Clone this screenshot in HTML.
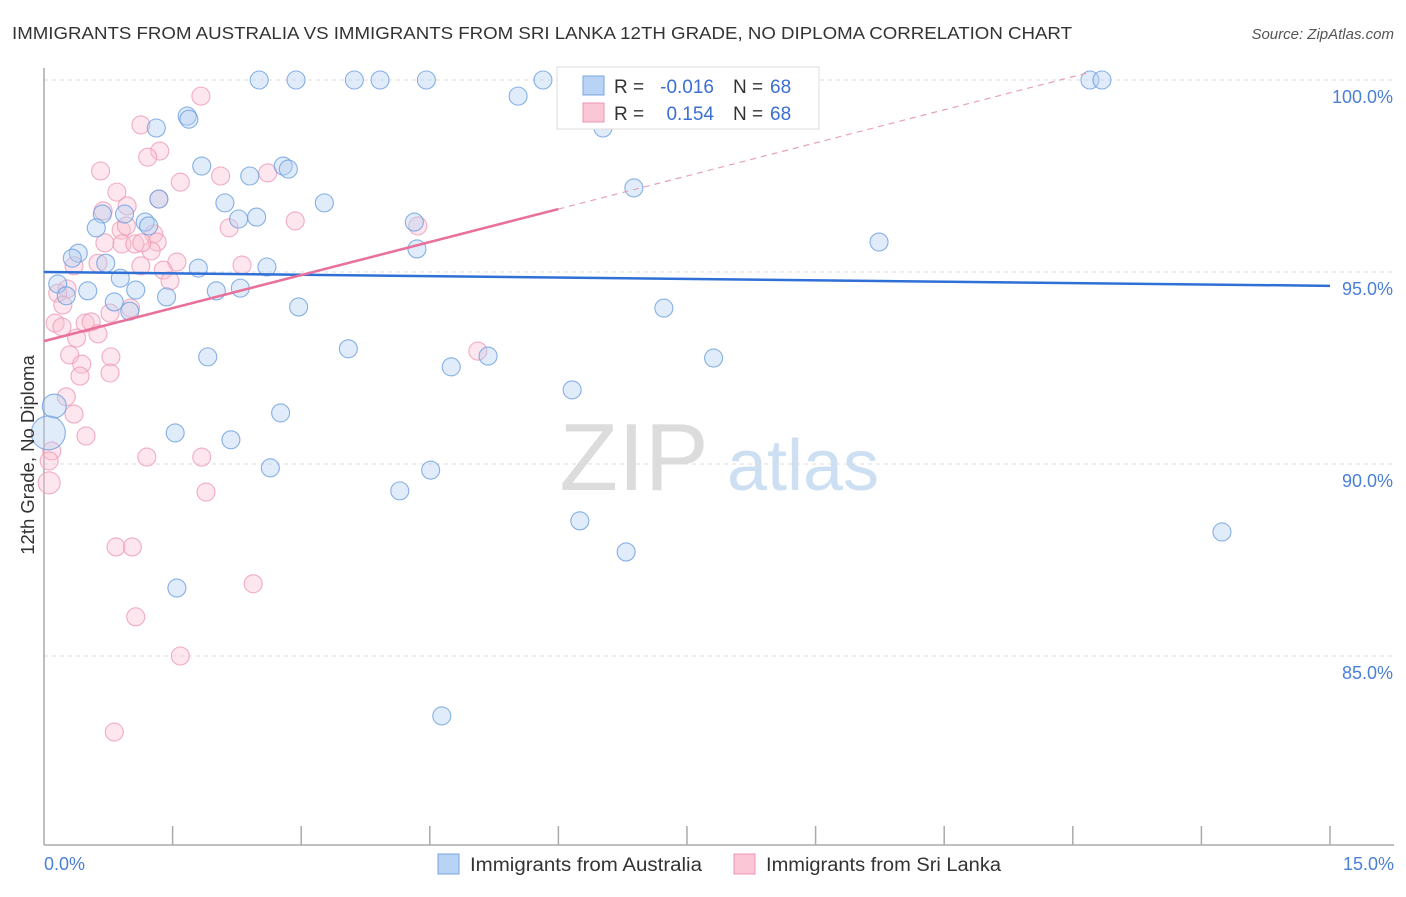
<!DOCTYPE html>
<html><head><meta charset="utf-8"><style>
body{margin:0;background:#fff;font-family:"Liberation Sans",sans-serif;}
svg text{font-family:"Liberation Sans",sans-serif;}
</style></head><body>
<svg id="chart" width="1406" height="892" viewBox="0 0 1406 892">
<text x="12" y="39" font-size="17.5" fill="#333" textLength="1060" lengthAdjust="spacingAndGlyphs">IMMIGRANTS FROM AUSTRALIA VS IMMIGRANTS FROM SRI LANKA 12TH GRADE, NO DIPLOMA CORRELATION CHART</text>
<text x="1394" y="39" font-size="15" font-style="italic" fill="#555" text-anchor="end">Source: ZipAtlas.com</text>
<g>
<text x="634" y="490" font-size="96" font-family="Liberation Serif" fill="#dcdcdc" text-anchor="middle">ZIP</text>
<text x="803" y="490" font-size="72" fill="#cddff2" text-anchor="middle">atlas</text>
</g>
<g id="grid"></g>
<g id="axes"></g>
<g id="pts"></g>
<g id="trends"></g>
<g>
<rect x="557" y="67" width="262" height="62" fill="#fff" stroke="#ddd"/>
<rect x="583" y="76" width="21" height="19" fill="#b9d3f5" stroke="#7aa5e0"/>
<text x="614" y="93" font-size="19" fill="#333">R =</text>
<text x="714" y="93" font-size="19" fill="#3b6fd1" text-anchor="end">-0.016</text>
<text x="733" y="93" font-size="19" fill="#333">N =</text>
<text x="770" y="93" font-size="19" fill="#3b6fd1">68</text>
<rect x="583" y="103" width="21" height="19" fill="#fbc6d6" stroke="#ec95b0"/>
<text x="614" y="120" font-size="19" fill="#333">R =</text>
<text x="714" y="120" font-size="19" fill="#3b6fd1" text-anchor="end">0.154</text>
<text x="733" y="120" font-size="19" fill="#333">N =</text>
<text x="770" y="120" font-size="19" fill="#3b6fd1">68</text>
</g>
<g>
<rect x="438" y="854" width="21" height="20" fill="#b9d3f5" stroke="#7aa5e0"/>
<text x="470" y="871" font-size="19" fill="#333" textLength="232" lengthAdjust="spacingAndGlyphs">Immigrants from Australia</text>
<rect x="734" y="854" width="21" height="20" fill="#fbc6d6" stroke="#ec95b0"/>
<text x="766" y="871" font-size="19" fill="#333" textLength="235" lengthAdjust="spacingAndGlyphs">Immigrants from Sri Lanka</text>
</g>
<text transform="translate(34,455) rotate(-90)" font-size="18.5" fill="#333" text-anchor="middle">12th Grade, No Diploma</text>
</svg>
<script>
const yTicks=[100,95,90,85];
const yTickLabels=["100.0%","95.0%","90.0%","85.0%"];
const xLabels=["0.0%","15.0%"];
const blueX=[2.51,2.94,3.62,3.92,4.46,5.82,12.20,12.34,5.53,1.67,1.69,1.31,6.52,1.84,2.79,2.85,2.40,6.88,1.34,2.11,3.27,0.68,0.94,1.18,1.22,2.27,2.48,4.32,0.61,9.74,4.35,0.40,0.33,0.72,1.80,2.60,0.89,0.16,0.51,1.07,2.01,2.29,0.26,0.82,1.43,2.97,7.23,1.00,3.55,1.91,5.18,7.81,4.75,6.16,0.12,2.76,1.53,2.18,0.05,2.64,4.51,4.15,6.25,13.74,6.79,1.55,4.64];
const blueY=[100,100,100,100,100,100,100,100,99.58,99.06,98.98,98.75,98.75,97.76,97.76,97.68,97.50,97.19,96.90,96.80,96.80,96.51,96.51,96.30,96.20,96.38,96.43,96.30,96.15,95.78,95.60,95.49,95.36,95.23,95.10,95.13,94.84,94.69,94.51,94.53,94.51,94.58,94.38,94.22,94.35,94.09,94.06,93.98,93.00,92.79,92.81,92.76,92.53,91.93,91.51,91.33,90.81,90.63,90.81,89.90,89.84,89.30,88.52,88.23,87.71,86.77,83.44];
const blueR=[9,9,9,9,9,9,9,9,9,9,9,9,9,9,9,9,9,9,9,9,9,9,9,9,9,9,9,9,9,9,9,9,9,9,9,9,9,9,9,9,9,9,9,9,9,9,9,9,9,9,9,9,9,9,12,9,9,9,17,9,9,9,9,9,9,9,9];
const pinkX=[1.83,1.13,1.35,1.21,0.66,2.06,2.61,1.59,0.85,0.97,1.34,0.69,2.93,4.36,2.16,0.90,1.28,0.96,0.71,0.91,1.06,1.32,1.25,1.14,1.55,0.35,0.63,1.13,1.39,2.31,1.47,0.27,0.16,0.22,0.77,1.01,0.13,0.21,0.48,0.55,0.38,0.63,0.30,0.78,0.44,0.42,0.77,5.06,0.26,0.35,0.49,0.09,0.06,0.06,1.20,1.84,1.89,0.84,1.03,2.44,1.07,1.59,0.82];
const pinkY=[99.58,98.83,98.15,97.99,97.63,97.50,97.58,97.34,97.08,96.72,96.90,96.59,96.33,96.20,96.15,96.09,95.99,96.20,95.76,95.73,95.73,95.78,95.55,95.76,95.26,95.16,95.23,95.16,95.05,95.18,94.77,94.56,94.45,94.14,93.93,94.06,93.67,93.57,93.67,93.70,93.28,93.39,92.84,92.79,92.60,92.29,92.37,92.94,91.75,91.30,90.73,90.34,90.08,89.51,90.18,90.18,89.27,87.84,87.84,86.88,86.02,85.00,83.02];
const pinkR=[9,9,9,9,9,9,9,9,9,9,9,9,9,9,9,9,9,9,9,9,9,9,9,9,9,9,9,9,9,9,9,9,9,9,9,9,9,9,9,9,9,9,9,9,9,9,9,9,9,9,9,9,9,11,9,9,9,9,9,9,9,9,9];
const blueTrendX=[0,15];
const blueTrendY=[95.0,94.64];
const pinkTrendX=[0,6,12.2];
const pinkTrendY=[93.2,96.64,100.2];

const NS="http://www.w3.org/2000/svg";
const X=v=>44+v/15*1286;
const Y=v=>80+(100-v)/5*192;
function mk(tag,attrs,parent){const e=document.createElementNS(NS,tag);for(const k in attrs)e.setAttribute(k,attrs[k]);parent.appendChild(e);return e;}
const grid=document.getElementById('grid'),axes=document.getElementById('axes'),pts=document.getElementById('pts'),tr=document.getElementById('trends');
yTicks.forEach((t,i)=>{
  const l=mk('line',{x1:44,x2:1394,y1:Y(t),y2:Y(t),stroke:'#ddd','stroke-dasharray':'4,4'},grid);
  
  
  const tx=mk('text',{x:1393,y:Y(t)+23,'font-size':18,fill:'#4a7fd6','text-anchor':'end'},axes);
  tx.textContent=yTickLabels[i];
  
  
});
let a=mk('line',{x1:44,x2:44,y1:68,y2:845,stroke:'#aaa','stroke-width':1.5},axes);


a=mk('line',{x1:44,x2:1394,y1:845,y2:845,stroke:'#aaa','stroke-width':1.5},axes);


for(let i=1;i<=10;i++){
  const t=mk('line',{x1:X(i*1.5),x2:X(i*1.5),y1:826,y2:845,stroke:'#aaa','stroke-width':1.5},axes);
  
  
}
let xl=mk('text',{x:44,y:870,'font-size':18,fill:'#4a7fd6'},axes);xl.textContent=xLabels[0];


xl=mk('text',{x:1394,y:870,'font-size':18,fill:'#4a7fd6','text-anchor':'end'},axes);xl.textContent=xLabels[1];


function series(xs,ys,rs,fill,stroke,name){
  xs.forEach((v,i)=>{
    const c=mk('circle',{cx:X(v),cy:Y(ys[i]),r:rs[i],fill:fill,'fill-opacity':0.4,stroke:stroke,'stroke-opacity':0.8,'stroke-width':1.1},pts);
    
    
  });
}
series(pinkX,pinkY,pinkR,'#f9c0d2','#ee9ab5','sri-lanka-point');
series(blueX,blueY,blueR,'#b3cff2','#6a9de0','australia-point');
let b=mk('line',{x1:X(blueTrendX[0]),y1:Y(blueTrendY[0]),x2:X(blueTrendX[1]),y2:Y(blueTrendY[1]),stroke:'#2f6fd6','stroke-width':2.5},tr);


let p=mk('line',{x1:X(pinkTrendX[0]),y1:Y(pinkTrendY[0]),x2:X(pinkTrendX[1]),y2:Y(pinkTrendY[1]),stroke:'#e8709a','stroke-width':2.5},tr);


p=mk('line',{x1:X(pinkTrendX[1]),y1:Y(pinkTrendY[1]),x2:X(pinkTrendX[2]),y2:Y(pinkTrendY[2]),stroke:'#e8a0b8','stroke-width':1.2,'stroke-dasharray':'6,5'},tr);


</script>
</body></html>
